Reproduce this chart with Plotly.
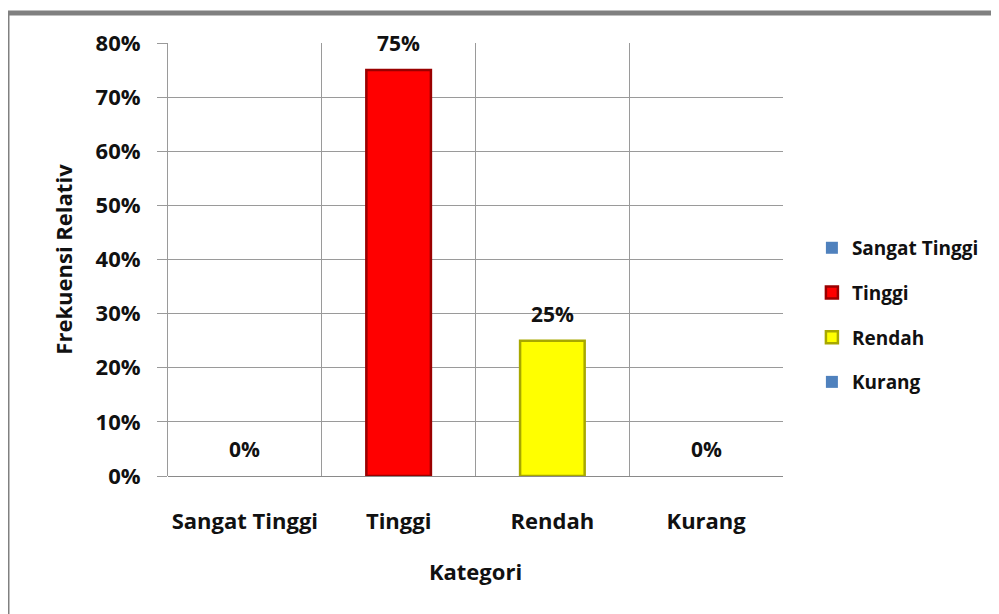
import plotly.graph_objects as go

categories = ["Sangat Tinggi", "Tinggi", "Rendah", "Kurang"]
values = [0.0, 0.75, 0.25, 0.0]
bar_colors = ["#4F81BD", "#FF0000", "#FFFF00", "#4F81BD"]
edge_colors = ["#2C4D75", "#9A0000", "#A8A800", "#2C4D75"]
y_ticks = [0, 0.1, 0.2, 0.3, 0.4, 0.5, 0.6, 0.7, 0.8]

FONT = "Open Sans"
TXT = "#111111"
fig = go.Figure()
for cat, val, col, edge in zip(categories, values, bar_colors, edge_colors):
    fig.add_trace(go.Bar(
        x=[cat], y=[val], name=cat, legendgroup=cat,
        marker=dict(color=col, line=dict(color=edge, width=2.5 if val > 0 else 0)),
        width=0.42,
    ))
    fig.add_annotation(
        x=cat, y=val, text=f"{val:.0%}", showarrow=False, yshift=27,
        font=dict(family=FONT, size=21, color=TXT, weight="bold"),
    )

# outer grey frame
fig.add_shape(type="rect", xref="paper", yref="paper",
              x0=-0.2618, x1=1.6, y0=-0.6, y1=1.0690,
              line=dict(color="#808080", width=5), layer="below")

fig.update_layout(
    width=999, height=614,
    margin=dict(l=160, r=224, t=35, b=146),
    paper_bgcolor="white", plot_bgcolor="white",
    barmode="overlay",
    font=dict(family=FONT, size=20, color=TXT),
    showlegend=True,
    legend=dict(x=1.047, y=0.372, xanchor="left", yanchor="middle",
                tracegroupgap=17,
                font=dict(family=FONT, size=19, color=TXT, weight="bold")),
    xaxis=dict(
        categoryorder="array", categoryarray=categories,
        tickson="boundaries", showgrid=True, gridcolor="#9A9A9A", gridwidth=1,
        showline=False, ticks="", ticklabelstandoff=30, tickangle=0,
        automargin=False,
        tickfont=dict(family=FONT, size=22, color=TXT, weight="bold"),
        title=dict(text="Kategori", standoff=30,
                   font=dict(family=FONT, size=22, color=TXT, weight="bold")),
        range=[-0.5, 3.5],
    ),
    yaxis=dict(
        range=[0, 0.8], tickvals=y_ticks, tickformat=".0%",
        showgrid=True, gridcolor="#9A9A9A", gridwidth=1,
        showline=True, linecolor="#9A9A9A", linewidth=1,
        ticks="outside", ticklen=10, tickcolor="#9A9A9A",
        ticklabelstandoff=12, automargin=False,
        zeroline=True, zerolinecolor="#8A8A8A", zerolinewidth=1,
        tickfont=dict(family=FONT, size=22, color=TXT, weight="bold"),
        title=dict(text="Frekuensi Relativ", standoff=16,
                   font=dict(family=FONT, size=22, color=TXT, weight="bold")),
    ),
)

fig.write_html("out.html")
